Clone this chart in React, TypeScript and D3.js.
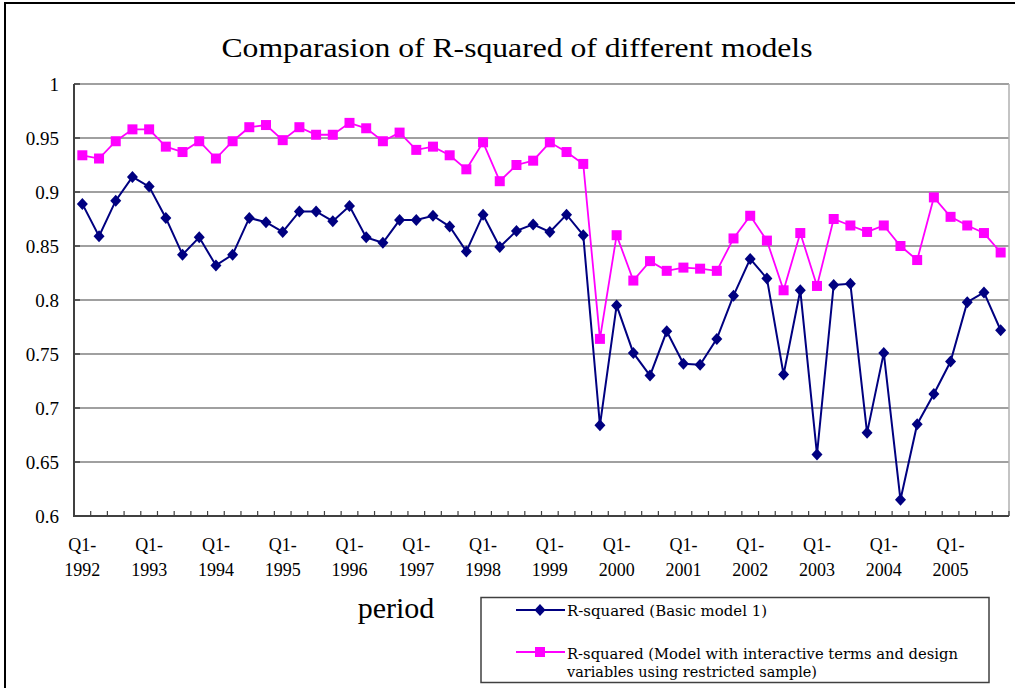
import React, { useEffect, useRef } from "react";
import * as d3 from "d3";

// quarters Q1-1992 .. Q4-2005
const years = [1992, 1993, 1994, 1995, 1996, 1997, 1998, 1999, 2000, 2001, 2002, 2003, 2004, 2005];
const quarterNames = ["Q1", "Q2", "Q3", "Q4"];
const quarters = years.flatMap(yr => quarterNames.map(q => `${q}-${yr}`));

const basicModel = [
  0.889, 0.859, 0.892, 0.914, 0.905, 0.876, 0.842, 0.858, 0.832, 0.842,
  0.876, 0.872, 0.863, 0.882, 0.882, 0.873, 0.887, 0.858, 0.853, 0.874,
  0.874, 0.878, 0.868, 0.845, 0.879, 0.849, 0.864, 0.870, 0.863, 0.879,
  0.860, 0.684, 0.795, 0.751, 0.730, 0.771, 0.741, 0.740, 0.764, 0.804,
  0.838, 0.820, 0.731, 0.809, 0.657, 0.814, 0.815, 0.677, 0.751, 0.615,
  0.685, 0.713, 0.743, 0.798, 0.807, 0.772
];

const interactiveModel = [
  0.934, 0.931, 0.947, 0.958, 0.958, 0.942, 0.937, 0.947, 0.931, 0.947,
  0.960, 0.962, 0.948, 0.960, 0.953, 0.953, 0.964, 0.959, 0.947, 0.955,
  0.939, 0.942, 0.934, 0.921, 0.946, 0.910, 0.925, 0.929, 0.946, 0.937,
  0.926, 0.764, 0.860, 0.818, 0.836, 0.827, 0.830, 0.829, 0.827, 0.857,
  0.878, 0.855, 0.809, 0.862, 0.813, 0.875, 0.869, 0.863, 0.869, 0.850,
  0.837, 0.895, 0.877, 0.869, 0.862, 0.844
];

const yTicks = [0.6, 0.65, 0.7, 0.75, 0.8, 0.85, 0.9, 0.95, 1];
const labelQuarters = quarters.filter(q => q.startsWith("Q1"));

const title = "Comparasion of R-squared of different models";
const xTitle = "period";
const legend1 = "R-squared (Basic model 1)";
const legend2a = "R-squared (Model with interactive terms and design";
const legend2b = "variables using restricted sample)";

const NAVY = "#000080";
const PINK = "#ff00ff";
const serif = "'Liberation Serif', 'Times New Roman', serif";
const legendFont = "'DejaVu Serif', serif";

function Chart() {
  const ref = useRef<SVGSVGElement>(null);

  useEffect(() => {
    const svg = d3.select(ref.current);
    svg.selectAll("*").remove();

    const left = 74, right = 1009, top = 84, bottom = 516;

    const x = d3.scaleBand().domain(quarters).range([left, right]);
    const y = d3.scaleLinear().domain([0.6, 1]).range([bottom, top]);
    const cx = (i: number) => (x(quarters[i]) as number) + x.bandwidth() / 2;

    svg.append("rect")
      .attr("width", 1015).attr("height", 688).attr("fill", "#fff");

    // outer frame
    svg.append("rect")
      .attr("x", 5).attr("y", 3).attr("width", 1030).attr("height", 720)
      .attr("fill", "none").attr("stroke", "#000").attr("stroke-width", 2);

    svg.append("text")
      .attr("x", 517).attr("y", 57)
      .attr("text-anchor", "middle")
      .attr("textLength", 591).attr("lengthAdjust", "spacingAndGlyphs")
      .style("font-family", serif).style("font-size", "28px")
      .text(title);

    // grid
    svg.append("g").selectAll("line")
      .data(yTicks.filter(t => t > 0.6))
      .join("line")
      .attr("x1", left).attr("x2", right)
      .attr("y1", d => y(d)).attr("y2", d => y(d))
      .attr("stroke", "#808080").attr("stroke-width", 1.5);

    svg.append("line")
      .attr("x1", right).attr("x2", right).attr("y1", top).attr("y2", bottom)
      .attr("stroke", "#b0b0b0").attr("stroke-width", 1.5);

    // y axis
    const yAxis = svg.append("g")
      .attr("transform", `translate(${left},0)`)
      .call(d3.axisLeft(y).tickValues(yTicks).tickSize(0).tickPadding(15)
        .tickFormat(d => String(+(+d).toFixed(2))));
    yAxis.select(".domain").remove();
    yAxis.selectAll("text")
      .attr("dy", "0.36em")
      .style("font-family", serif).style("font-size", "19px").attr("fill", "#000");

    svg.append("g").selectAll("line")
      .data(yTicks)
      .join("line")
      .attr("x1", left).attr("x2", left + 6)
      .attr("y1", d => y(d)).attr("y2", d => y(d))
      .attr("stroke", "#404040").attr("stroke-width", 1.5);

    // x boundary ticks
    const bounds = quarters.map(q => x(q) as number).concat([right]);
    svg.append("g").selectAll("line")
      .data(bounds)
      .join("line")
      .attr("x1", d => d).attr("x2", d => d)
      .attr("y1", bottom).attr("y2", bottom - 5)
      .attr("stroke", "#404040").attr("stroke-width", 1.2);

    svg.append("line")
      .attr("x1", left).attr("x2", left).attr("y1", top).attr("y2", bottom + 1)
      .attr("stroke", "#404040").attr("stroke-width", 2);
    svg.append("line")
      .attr("x1", left - 1).attr("x2", right).attr("y1", bottom).attr("y2", bottom)
      .attr("stroke", "#404040").attr("stroke-width", 2);

    // x labels
    const xl = svg.append("g").selectAll("text")
      .data(labelQuarters)
      .join("text")
      .attr("text-anchor", "middle")
      .style("font-family", serif).style("font-size", "18px");
    xl.append("tspan")
      .attr("x", d => (x(d) as number) + x.bandwidth() / 2).attr("y", 551)
      .text(d => d.split("-")[0] + "-");
    xl.append("tspan")
      .attr("x", d => (x(d) as number) + x.bandwidth() / 2).attr("y", 576)
      .text(d => d.split("-")[1]);

    svg.append("text")
      .attr("x", 396).attr("y", 618)
      .attr("text-anchor", "middle")
      .style("font-family", serif).style("font-size", "30px")
      .text(xTitle);

    // series
    const line = d3.line<number>().x((d, i) => cx(i)).y(d => y(d));
    const diamond = "M0,-6L5.5,0L0,6L-5.5,0Z";

    svg.append("path").datum(interactiveModel)
      .attr("d", line).attr("fill", "none")
      .attr("stroke", PINK).attr("stroke-width", 1.8);
    svg.append("path").datum(basicModel)
      .attr("d", line).attr("fill", "none")
      .attr("stroke", NAVY).attr("stroke-width", 2);

    svg.append("g").selectAll("rect")
      .data(interactiveModel)
      .join("rect")
      .attr("x", (d, i) => cx(i) - 5).attr("y", d => y(d) - 5)
      .attr("width", 10).attr("height", 10)
      .attr("fill", PINK);

    svg.append("g").selectAll("path")
      .data(basicModel)
      .join("path")
      .attr("d", diamond)
      .attr("transform", (d, i) => `translate(${cx(i)},${y(d)})`)
      .attr("fill", NAVY);

    // legend
    const lg = svg.append("g");
    lg.append("rect")
      .attr("x", 481).attr("y", 597.5).attr("width", 508).attr("height", 85)
      .attr("fill", "#fff").attr("stroke", "#404040").attr("stroke-width", 1.5);
    lg.append("line")
      .attr("x1", 516).attr("x2", 565).attr("y1", 610).attr("y2", 610)
      .attr("stroke", NAVY).attr("stroke-width", 2);
    lg.append("path").attr("d", diamond)
      .attr("transform", "translate(540,610)").attr("fill", NAVY);
    lg.append("line")
      .attr("x1", 516).attr("x2", 565).attr("y1", 652).attr("y2", 652)
      .attr("stroke", PINK).attr("stroke-width", 1.8);
    lg.append("rect")
      .attr("x", 535).attr("y", 647).attr("width", 10).attr("height", 10)
      .attr("fill", PINK);

    const legendText = [
      { t: legend1, y: 616, w: 200 },
      { t: legend2a, y: 659, w: 391 },
      { t: legend2b, y: 677, w: 250 }
    ];
    lg.selectAll("text.lt")
      .data(legendText)
      .join("text")
      .attr("class", "lt")
      .attr("x", 567).attr("y", d => d.y)
      .attr("textLength", d => d.w).attr("lengthAdjust", "spacingAndGlyphs")
      .style("font-family", legendFont).style("font-size", "14.5px")
      .attr("fill", "#000")
      .text(d => d.t);
  }, []);

  return <svg ref={ref} width={1015} height={688} style={{ position: "absolute", left: 0, top: 0 }} />;
}

export default function App() {
  return <Chart />;
}
